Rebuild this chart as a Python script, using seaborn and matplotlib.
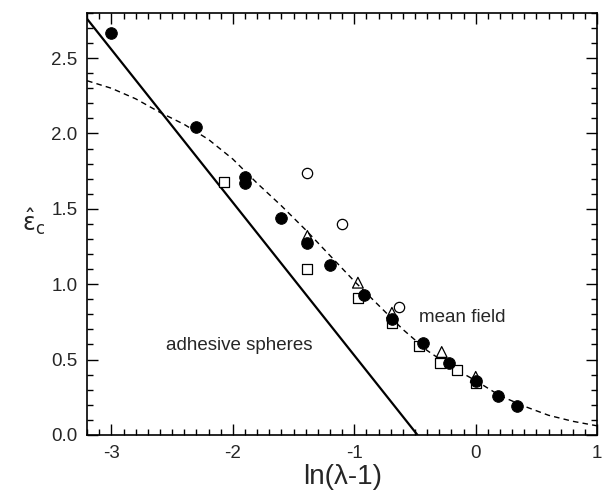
#!/usr/bin/env python3
import matplotlib
matplotlib.use("Agg")
import matplotlib.pyplot as plt
from matplotlib.ticker import MultipleLocator
import pandas as pd
import seaborn as sns


# adhesive spheres (solid line)
adhesive_x = [-3.2, -0.48]
adhesive_y = [2.76, 0.0]

# mean field (dashed curve)
mf_x = [-3.2, -3.0, -2.8, -2.6, -2.4, -2.2, -2.0, -1.8, -1.6, -1.4, -1.2,
        -1.0, -0.8, -0.6, -0.4, -0.2, 0.0, 0.2, 0.4, 0.6, 0.8, 1.0]
mf_y = [2.35, 2.30, 2.23, 2.14, 2.06, 1.96, 1.83, 1.67, 1.52, 1.36, 1.19,
        1.02, 0.86, 0.70, 0.56, 0.45, 0.36, 0.26, 0.19, 0.13, 0.09, 0.06]

# simulation points
filled_x = [-3.0, -2.3, -1.9, -1.9, -1.6, -1.386, -1.2, -0.916, -0.69, -0.43, -0.22, 0.0, 0.18, 0.336]
filled_y = [2.67, 2.04, 1.71, 1.67, 1.44, 1.27, 1.13, 0.93, 0.77, 0.61, 0.48, 0.36, 0.26, 0.19]

square_x = [-2.07, -1.386, -0.97, -0.69, -0.47, -0.29, -0.155, 0.0]
square_y = [1.68, 1.10, 0.91, 0.74, 0.59, 0.48, 0.43, 0.345]

triangle_x = [-1.386, -0.97, -0.69, -0.28, 0.0]
triangle_y = [1.32, 1.01, 0.81, 0.55, 0.385]

open_x = [-1.386, -1.10, -0.63]
open_y = [1.735, 1.40, 0.85]


def main() -> None:
    sns.set_theme(style="ticks")
    plt.rcParams["font.family"] = ["Liberation Sans", "DejaVu Sans"]
    plt.rcParams["mathtext.fontset"] = "dejavusans"

    fig = plt.figure(figsize=(6.05, 4.97), dpi=100)
    ax = fig.add_axes([0.144, 0.125, 0.843, 0.849])

    sns.lineplot(x=adhesive_x, y=adhesive_y, color="black", linewidth=1.6, ax=ax)
    mf = pd.DataFrame({"x": mf_x, "y": mf_y})
    sns.lineplot(data=mf, x="x", y="y", color="black", linewidth=1.0,
                 linestyle=(0, (4, 3)), ax=ax)

    sns.scatterplot(x=filled_x, y=filled_y, marker="o", s=70, color="black",
                    edgecolor="black", zorder=4, ax=ax)
    sns.scatterplot(x=square_x, y=square_y, marker="s", s=55, facecolor="white",
                    edgecolor="black", linewidth=0.9, zorder=3, ax=ax)
    sns.scatterplot(x=triangle_x, y=triangle_y, marker="^", s=60, facecolor="none",
                    edgecolor="black", linewidth=0.9, zorder=5, ax=ax)
    sns.scatterplot(x=open_x, y=open_y, marker="o", s=55, facecolor="white",
                    edgecolor="black", linewidth=0.9, zorder=3, ax=ax)

    ax.text(-2.55, 0.59, "adhesive spheres", fontsize=13.5, ha="left", va="center")
    ax.text(-0.47, 0.78, "mean field", fontsize=13.5, ha="left", va="center")

    ax.set_xlim(-3.2, 1.0)
    ax.set_ylim(0.0, 2.8)
    ax.xaxis.set_major_locator(MultipleLocator(1))
    ax.xaxis.set_minor_locator(MultipleLocator(0.1))
    ax.yaxis.set_major_locator(MultipleLocator(0.5))
    ax.yaxis.set_minor_locator(MultipleLocator(0.1))
    ax.yaxis.set_major_formatter(matplotlib.ticker.FormatStrFormatter("%.1f"))
    ax.xaxis.set_major_formatter(matplotlib.ticker.FormatStrFormatter("%d"))
    ax.tick_params(which="both", direction="in", top=True, right=True,
                   color="black", width=1.0, labelsize=13.5, pad=7)
    ax.tick_params(which="major", length=8)
    ax.tick_params(which="minor", length=4)
    for s in ax.spines.values():
        s.set_linewidth(1.2)
        s.set_color("black")

    ax.set_xlabel("ln(λ-1)", fontsize=20, labelpad=2)
    ax.set_ylabel(r"$\hat{\mathrm{\varepsilon}}_\mathrm{c}$", fontsize=17, rotation=0,
                  labelpad=18, va="center")
    ax.yaxis.set_label_coords(-0.105, 0.505)

    fig.savefig("out.png", dpi=100)
    plt.close(fig)


if __name__ == "__main__":
    main()
